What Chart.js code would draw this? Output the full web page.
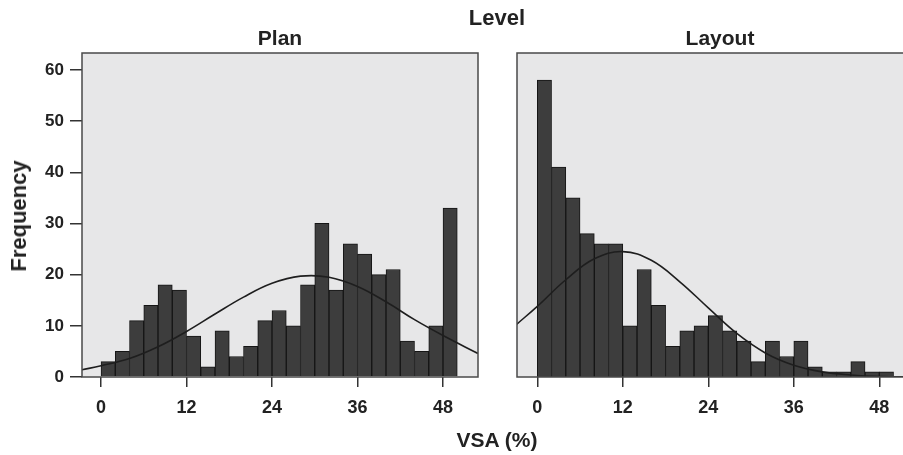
<!DOCTYPE html>
<html>
<head>
<meta charset="utf-8">
<script src="https://cdn.jsdelivr.net/npm/chart.js@4/dist/chart.umd.min.js"></script>
<style>
    html, body { margin: 0; padding: 0; background: #fff; overflow: hidden; }
    body { width: 903px; height: 455px; position: relative; font-family: 'Liberation Sans', Arial, sans-serif; font-weight: bold; color: #222; }
    canvas { position: absolute; top: 0; }
    #planCanvas { left: 0; }
    #layoutCanvas { left: 505px; }
    .lbl { position: absolute; transform: translate(-50%, -50%); white-space: nowrap; }
</style>
</head>
<body>
<canvas id="planCanvas" width="480" height="455"></canvas>
<canvas id="layoutCanvas" width="410" height="455"></canvas>
<div class="lbl" style="left:497px; top:18px; font-size:22px;">Level</div>
<div class="lbl" style="left:280px; top:38px; font-size:21px;">Plan</div>
<div class="lbl" style="left:720px; top:38px; font-size:21px;">Layout</div>
<div class="lbl" style="left:497px; top:440px; font-size:21px;">VSA (%)</div>
<div class="lbl" style="left:19px; top:216px; font-size:22px; transform: translate(-50%, -50%) rotate(-90deg);">Frequency</div>
<script>
// Histogram bins (VSA %, width 2) and counts per level
const binCenters = [1, 3, 5, 7, 9, 11, 13, 15, 17, 19, 21, 23, 25, 27, 29, 31, 33, 35, 37, 39, 41, 43, 45, 47, 49];
const planCounts = [3, 5, 11, 14, 18, 17, 8, 2, 9, 4, 6, 11, 13, 10, 18, 30, 17, 26, 24, 20, 21, 7, 5, 10, 33];
const layoutCounts = [58, 41, 35, 28, 26, 26, 10, 21, 14, 6, 9, 10, 12, 9, 7, 3, 7, 4, 7, 2, 1, 1, 3, 1, 1];

// Normal curves, values
const planCurveX = [-2.7, 0, 4, 8, 12, 16, 20, 24, 28, 32, 36, 40, 44, 48, 52.9];
const planCurveY = [1.4, 2.2, 3.6, 5.9, 8.9, 12.3, 15.6, 18.3, 19.7, 19.5, 17.7, 14.7, 11.2, 8.1, 4.6];
const layoutCurveX = [-2.9, 0, 4, 8, 12, 16, 20, 24, 28, 32, 36, 40, 44, 48, 52.7];
const layoutCurveY = [10.3, 13.8, 19.0, 23.1, 24.5, 22.8, 18.6, 13.5, 8.5, 4.7, 2.3, 1.0, 0.4, 0.1, 0.03];

const xTicks = [0, 12, 24, 36, 48];
const yTicks = [0, 10, 20, 30, 40, 50, 60];

const FONT = "'Liberation Sans', Arial, sans-serif";

const panelPlugin = {
    id: 'panel',
    beforeDraw(chart) {
        const { ctx, chartArea: a } = chart;
        ctx.save();
        ctx.fillStyle = '#e7e7e8';
        ctx.fillRect(a.left, a.top, a.right - a.left, a.bottom - a.top);
        ctx.restore();
    },
    afterDatasetsDraw(chart) {
        const { ctx, chartArea: a } = chart;
        ctx.save();
        ctx.strokeStyle = '#4a4a4a';
        ctx.lineWidth = 1.5;
        ctx.strokeRect(a.left, a.top, a.right - a.left, a.bottom - a.top);
        ctx.restore();
    }
};

function makeChart(canvasId, counts, curveX, curveY, xMin, xMax, showY, pad) {
    const ctx = document.getElementById(canvasId).getContext('2d');
    return new Chart(ctx, {
        type: 'bar',
        data: {
            datasets: [
                {
                    type: 'line',
                    data: curveX.map((x, i) => ({ x: x, y: curveY[i] })),
                    borderColor: '#1e1e1e',
                    borderWidth: 1.6,
                    pointRadius: 0,
                    tension: 0.4,
                    fill: false,
                    order: 0
                },
                {
                    type: 'bar',
                    data: binCenters.map((x, i) => ({ x: x, y: counts[i] })),
                    backgroundColor: '#3d3d3d',
                    borderColor: '#151515',
                    borderWidth: 1,
                    barPercentage: 1,
                    categoryPercentage: 1,
                    order: 1
                }
            ]
        },
        options: {
            responsive: false,
            animation: false,
            layout: { padding: pad },
            plugins: { legend: { display: false }, tooltip: { enabled: false } },
            scales: {
                x: {
                    type: 'linear',
                    min: xMin,
                    max: xMax,
                    offset: false,
                    afterBuildTicks: s => { s.ticks = xTicks.map(v => ({ value: v })); },
                    afterFit: s => { s.height = 78; },
                    grid: { offset: false, drawOnChartArea: false, drawTicks: true, tickLength: 10, color: '#333', lineWidth: 1.5 },
                    border: { display: false },
                    ticks: { autoSkip: false, maxRotation: 0, padding: 10, color: '#222', font: { family: FONT, size: 18, weight: 'bold' } }
                },
                y: {
                    display: showY,
                    min: 0,
                    max: 63.3,
                    afterBuildTicks: s => { s.ticks = yTicks.map(v => ({ value: v })); },
                    afterFit: s => { s.width = showY ? 82 : 0; },
                    grid: { drawOnChartArea: false, drawTicks: true, tickLength: 12, color: '#333', lineWidth: 1.5 },
                    border: { display: false },
                    ticks: { padding: 6, color: '#222', font: { family: FONT, size: 17, weight: 'bold' } }
                }
            }
        },
        plugins: [panelPlugin]
    });
}

makeChart('planCanvas', planCounts, planCurveX, planCurveY, -2.67, 52.91, true, { top: 53, right: 2, left: 0, bottom: 0 });
makeChart('layoutCanvas', layoutCounts, layoutCurveX, layoutCurveY, -2.85, 52.73, false, { top: 53, right: 2, left: 12, bottom: 0 });
</script>
</body>
</html>
